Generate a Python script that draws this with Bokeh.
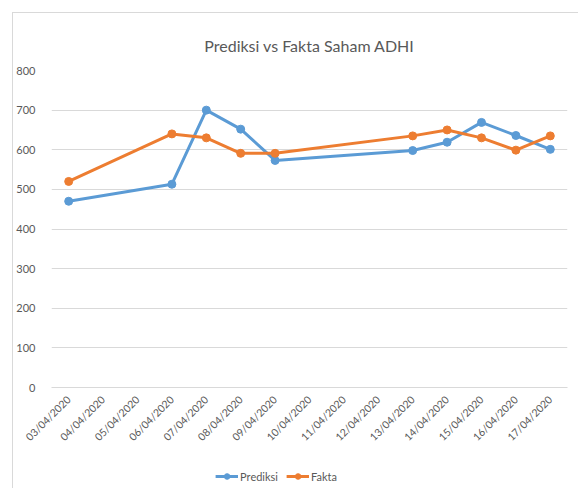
import datetime as dt
from bokeh.plotting import figure
from bokeh.layouts import column
from bokeh.models import (FixedTicker, DatetimeTickFormatter, Legend, LegendItem,
                          Range1d, ColumnDataSource)
from bokeh.embed import file_html
from bokeh.resources import INLINE

# ---- data ----
dates = ["03/04/2020", "06/04/2020", "07/04/2020", "08/04/2020", "09/04/2020",
         "13/04/2020", "14/04/2020", "15/04/2020", "16/04/2020", "17/04/2020"]
prediksi = [470, 513, 700, 652, 573, 598, 619, 669, 636, 601]
fakta = [520, 640, 630, 591, 591, 635, 650, 630, 599, 635]
tick_labels = ["03/04/2020", "04/04/2020", "05/04/2020", "06/04/2020", "07/04/2020",
               "08/04/2020", "09/04/2020", "10/04/2020", "11/04/2020", "12/04/2020",
               "13/04/2020", "14/04/2020", "15/04/2020", "16/04/2020", "17/04/2020"]
y_ticks = [0, 100, 200, 300, 400, 500, 600, 700, 800]

BLUE = "#5B9BD5"
ORANGE = "#ED7D31"
GREY_TEXT = "#595959"
GRID = "#D9D9D9"
FONT = "Lato"


def parse(s):
    return dt.datetime.strptime(s, "%d/%m/%Y")


def to_ms(d):
    return (d - dt.datetime(1970, 1, 1)).total_seconds() * 1000.0


x = [parse(d) for d in dates]
ticks = [to_ms(parse(d)) for d in tick_labels]
half_day = dt.timedelta(hours=12)

src = ColumnDataSource(dict(x=x, prediksi=prediksi, fakta=fakta))

# ---- main chart ----
p = figure(width=566, height=451, x_axis_type="datetime",
           output_backend="svg", toolbar_location=None,
           x_range=Range1d(parse(tick_labels[0]) - half_day, parse(tick_labels[-1]) + half_day),
           y_range=Range1d(0, 800),
           min_border_left=38, min_border_right=12, min_border_top=57, min_border_bottom=77,
           title="Prediksi vs Fakta Saham ADHI")

p.title.align = "center"
p.title.text_font = FONT
p.title.text_font_size = "16px"
p.title.text_font_style = "normal"
p.title.text_color = GREY_TEXT
p.title.standoff = 32
p.title.offset = -24

p.outline_line_color = None
p.background_fill_color = "white"
p.border_fill_color = "white"

p.xgrid.grid_line_color = None
p.ygrid.grid_line_color = GRID
p.ygrid.grid_line_width = 1

p.xaxis.ticker = FixedTicker(ticks=ticks)
fmt = "%d/%m/%Y"
p.xaxis.formatter = DatetimeTickFormatter(
    microseconds=fmt, milliseconds=fmt, seconds=fmt, minsec=fmt, minutes=fmt,
    hourmin=fmt, hours=fmt, days=fmt, months=fmt, years=fmt)
p.xaxis.major_label_orientation = 0.785398
p.xaxis.axis_line_color = GRID
p.xaxis.major_tick_line_color = None
p.xaxis.minor_tick_line_color = None
p.xaxis.major_label_text_font = FONT
p.xaxis.major_label_text_font_size = "10.5px"
p.xaxis.major_label_text_color = GREY_TEXT
p.xaxis.major_label_standoff = 4

p.yaxis.ticker = FixedTicker(ticks=y_ticks)
p.yaxis.axis_line_color = None
p.yaxis.major_tick_line_color = None
p.yaxis.minor_tick_line_color = None
p.yaxis.major_label_text_font = FONT
p.yaxis.major_label_text_font_size = "11px"
p.yaxis.major_label_text_color = GREY_TEXT
p.yaxis.major_label_standoff = 10

p.line("x", "prediksi", source=src, line_color=BLUE, line_width=3)
p.scatter("x", "prediksi", source=src, size=8, fill_color=BLUE, line_color=BLUE)
p.line("x", "fakta", source=src, line_color=ORANGE, line_width=3)
p.scatter("x", "fakta", source=src, size=8, fill_color=ORANGE, line_color=ORANGE)

# ---- legend strip (renderers hidden, only their legend entries show) ----
pl = figure(width=500, height=24, output_backend="svg", toolbar_location=None,
            x_axis_type=None, y_axis_type=None, min_border=0)
pl.outline_line_color = None
pl.border_fill_color = "white"
ll1 = pl.line("x", "prediksi", source=src, line_color=BLUE, line_width=3, visible=False)
ls1 = pl.scatter("x", "prediksi", source=src, size=8, fill_color=BLUE, line_color=BLUE, visible=False)
ll2 = pl.line("x", "fakta", source=src, line_color=ORANGE, line_width=3, visible=False)
ls2 = pl.scatter("x", "fakta", source=src, size=8, fill_color=ORANGE, line_color=ORANGE, visible=False)

legend = Legend(items=[LegendItem(label="Prediksi", renderers=[ll1, ls1]),
                       LegendItem(label="Fakta", renderers=[ll2, ls2])],
                orientation="horizontal", location="center",
                border_line_color=None, background_fill_alpha=0,
                label_text_font=FONT, label_text_font_size="11px",
                label_text_color=GREY_TEXT, glyph_width=23, glyph_height=14,
                spacing=8, padding=4, label_standoff=2, margin=0,
                inactive_fill_alpha=0)
pl.add_layout(legend, "center")

layout = column(p, pl, spacing=0)
layout.styles = {"position": "absolute", "left": "12px", "top": "12px",
                 "border-left": "1px solid #D9D9D9", "border-top": "1px solid #D9D9D9"}

open("out.html", "w").write(file_html(layout, INLINE))
